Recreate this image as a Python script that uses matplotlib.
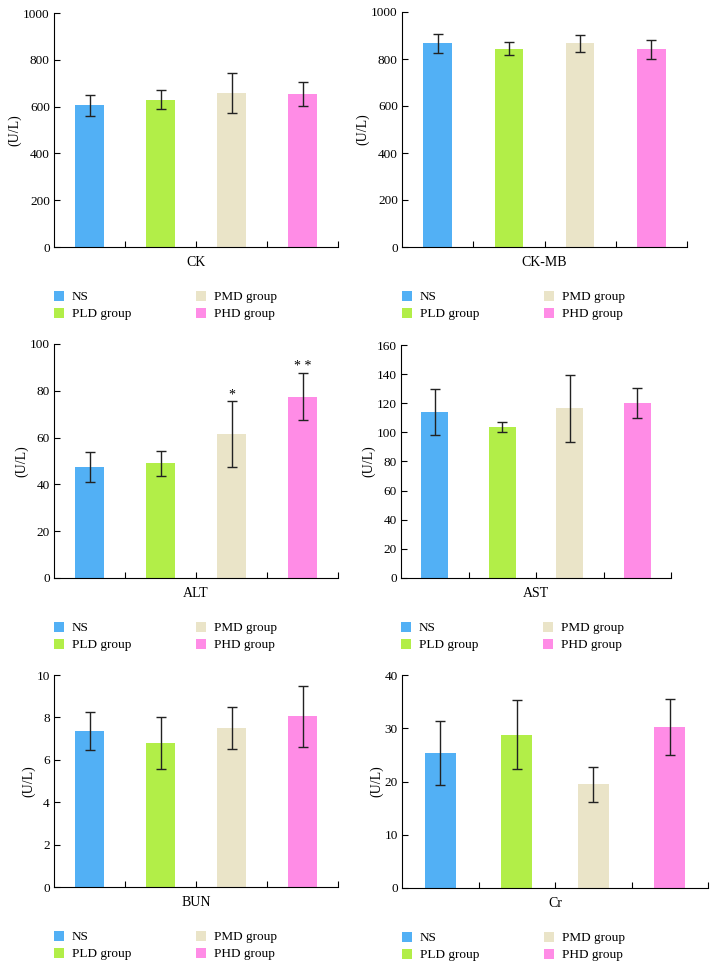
import matplotlib
matplotlib.use("Agg")
import matplotlib.pyplot as plt
from matplotlib.patches import Patch
import numpy as np

plt.rcParams["font.family"] = ["Liberation Serif", "DejaVu Serif"]

groups = ["NS", "PLD group", "PMD group", "PHD group"]
colors = ["#52b0f5", "#b2ee48", "#eae4c8", "#ff8ce6"]

ck = [605, 630, 658, 655]
ck_err = [46, 41, 87, 52]
ckmb = [866, 843, 866, 842]
ckmb_err = [39, 28, 35, 40]
alt = [47.5, 49.0, 61.5, 77.5]
alt_err = [6.3, 5.3, 14.0, 10.0]
ast = [114, 103.5, 116.5, 120.5]
ast_err = [16, 3.3, 23, 10.3]
bun = [7.35, 6.8, 7.5, 8.05]
bun_err = [0.9, 1.23, 1.0, 1.45]
cr = [25.3, 28.8, 19.5, 30.2]
cr_err = [6.0, 6.5, 3.3, 5.2]
alt_marks = ["", "", "*", "* *"]

W, H = 716, 965
fig = plt.figure(figsize=(W / 100, H / 100), dpi=100)


def panel(box, vals, errs, name, ymax, step, marks=None):
    x1, y1, x2, y2 = box
    ax = fig.add_axes([x1 / W, 1 - y2 / H, (x2 - x1) / W, (y2 - y1) / H])
    x = np.arange(len(vals))
    ax.bar(x, vals, width=0.4, color=colors, zorder=1)
    ax.errorbar(x, vals, yerr=errs, fmt="none", ecolor="#222222",
                elinewidth=1.0, capsize=3.5, capthick=1.0, zorder=2)
    if marks:
        for xi, v, e, m in zip(x, vals, errs, marks):
            if m:
                ax.text(xi, v + e, m, ha="center", va="bottom", fontsize=10)
    ax.set_xlim(-0.5, 3.5)
    ax.set_ylim(0, ymax)
    ax.set_yticks(np.arange(0, ymax + step / 2, step))
    ax.set_xticks([0.5, 1.5, 2.5, 3.5])
    ax.set_xticklabels([])
    ax.tick_params(axis="both", direction="in", length=4, width=0.8, labelsize=9.5)
    ax.tick_params(axis="y", pad=3)
    for s in ["top", "right"]:
        ax.spines[s].set_visible(False)
    for s in ["left", "bottom"]:
        ax.spines[s].set_linewidth(0.8)
    ax.set_xlabel(name, fontsize=10, labelpad=3)
    ax.set_ylabel("(U/L)", fontsize=10, labelpad=1)
    handles = [Patch(facecolor=c, edgecolor="none") for c in colors]
    ax.legend(handles, groups, ncol=2, loc="upper left",
              bbox_to_anchor=(x1 / W, 1 - (y2 + 44) / H), bbox_transform=fig.transFigure,
              frameon=False, fontsize=9.5, handlelength=0.75, handleheight=0.75,
              handletextpad=0.6, columnspacing=4.9, labelspacing=0.35,
              borderpad=0, borderaxespad=0)
    return ax


panel((54, 13, 338, 247), ck, ck_err, "CK", 1000, 200)
panel((402, 12, 687, 247), ckmb, ckmb_err, "CK-MB", 1000, 200)
panel((54, 344, 338, 578), alt, alt_err, "ALT", 100, 20, alt_marks)
panel((401, 345, 671, 578), ast, ast_err, "AST", 160, 20)
panel((54, 675, 338, 887), bun, bun_err, "BUN", 10, 2)
panel((402, 675, 708, 888), cr, cr_err, "Cr", 40, 10)

fig.savefig("out.png", dpi=100)
